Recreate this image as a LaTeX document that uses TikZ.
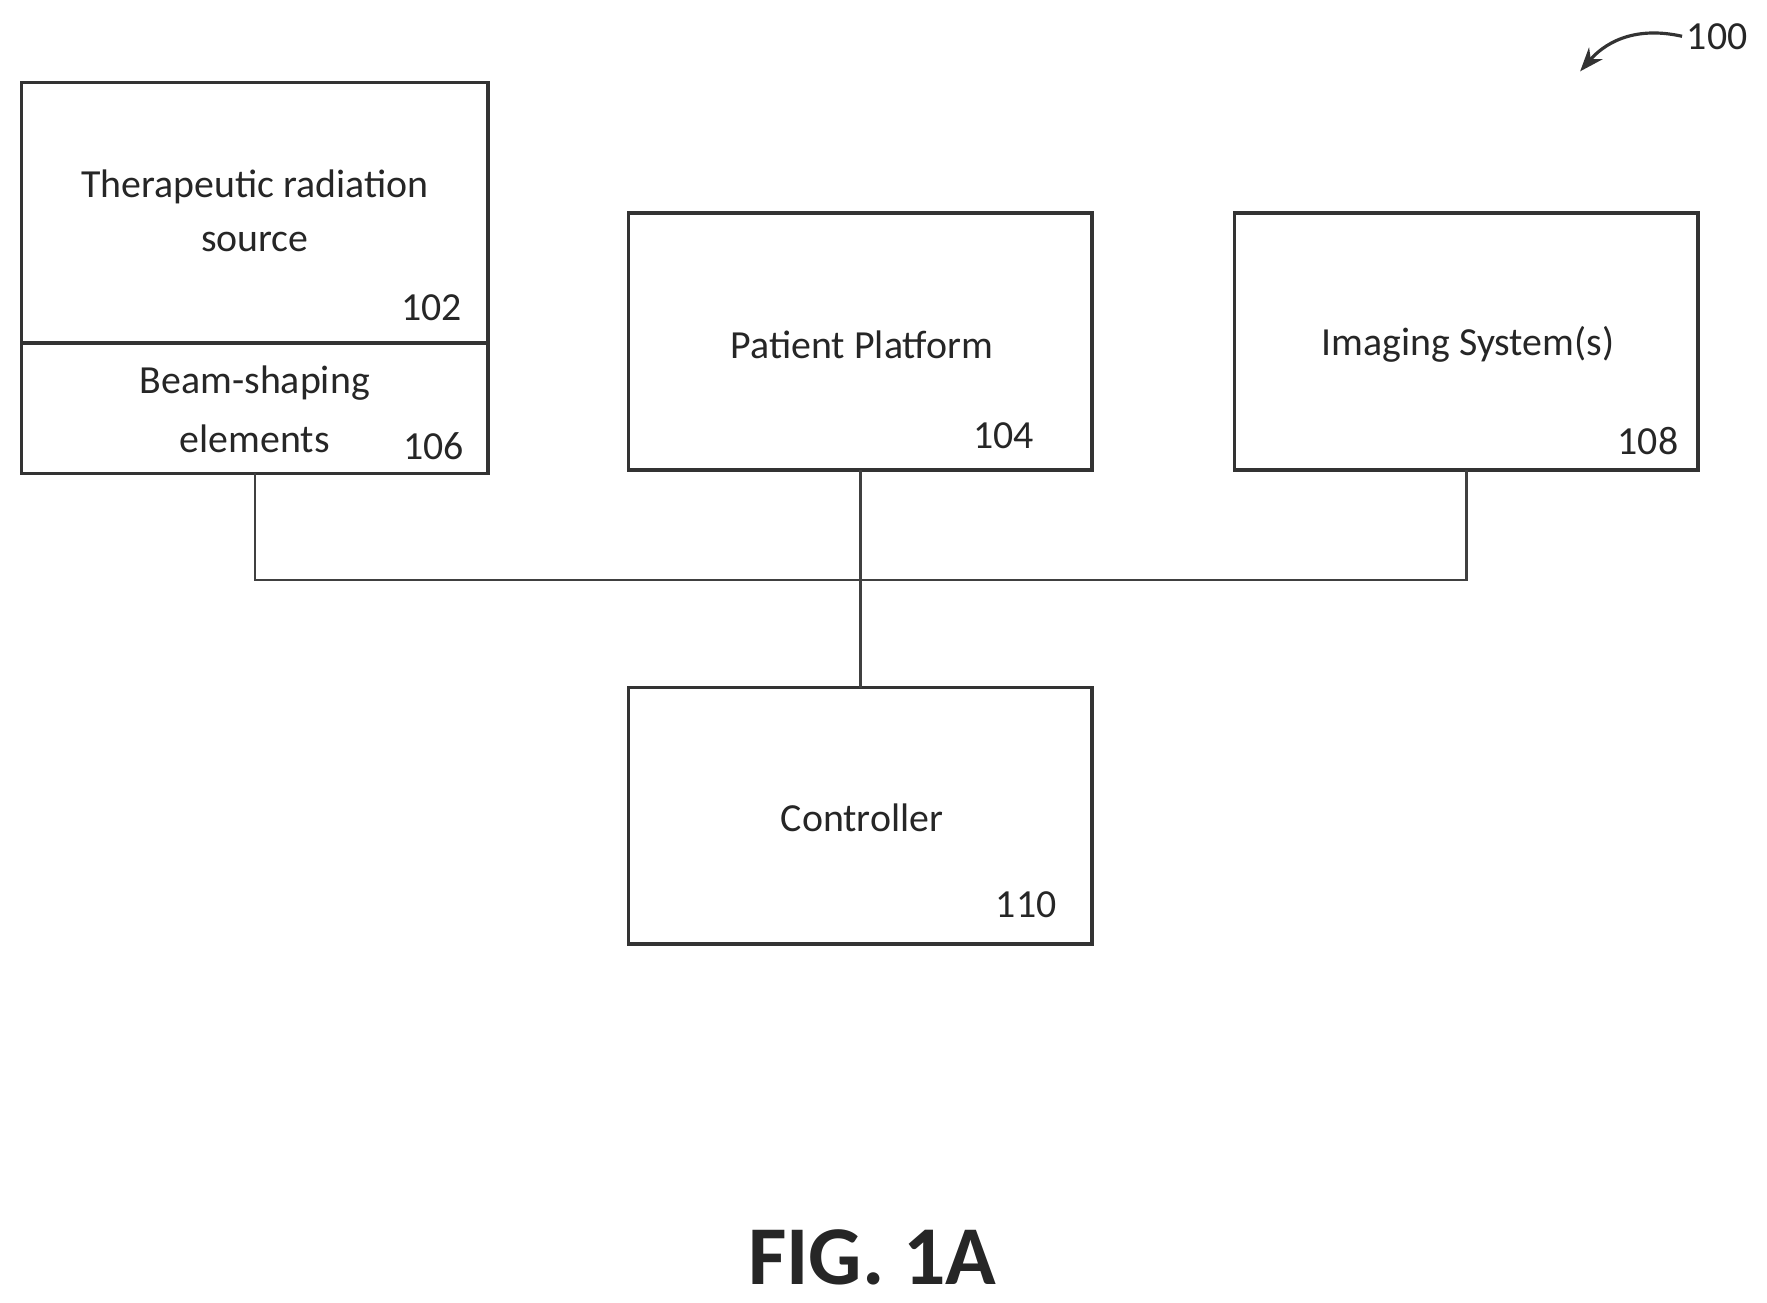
\documentclass[tikz,border=0pt]{standalone}
\usepackage{fontspec}
\setmainfont{Carlito}
\usetikzlibrary{arrows.meta}
\begin{document}
\begin{tikzpicture}[x=0.01cm,y=-0.01cm,
  box/.style={draw=black!80,line width=0.9pt,outer sep=0pt},
  lbl/.style={font=\fontsize{10pt}{12pt}\selectfont,text=black!85},
  wire/.style={draw=black!75,line width=0.6pt}]
\useasboundingbox (0,0) rectangle (1560,1150);
% boxes
\draw[box] (19,73) rectangle (431,418);
\draw[box] (19,303) -- (431,303);
\coordinate (srcbot) at (225,418);
\node[box,minimum width=4.09cm,minimum height=2.27cm,anchor=north west] (pp) at (555,188) {};
\node[box,minimum width=4.09cm,minimum height=2.27cm,anchor=north west] (img) at (1090,188) {};
\node[box,minimum width=4.09cm,minimum height=2.26cm,anchor=north west] (ctl) at (555,607) {};
% texts
\node[lbl] (t1) at (225,165) {Therapeutic radiation};
\node[lbl] (t2) at (225,214) {source};
\node[lbl] (n102) at (381,272) {102};
\node[lbl] (t3) at (225,338) {Beam-shaping};
\node[lbl] (t4) at (225,387) {elements};
\node[lbl] (n106) at (383,394) {106};
\node[lbl] (t5) at (761,304) {Patient Platform};
\node[lbl] (n104) at (886,385) {104};
\node[lbl] (t6) at (1296,304) {Imaging System(s)};
\node[lbl] (n108) at (1455,389) {108};
\node[lbl] (t7) at (761,722) {Controller};
\node[lbl] (n110) at (906,799) {110};
\node[font=\bfseries\fontsize{21pt}{25pt}\selectfont,text=black!85] (fig) at (770,1110) {FIG. 1A};
\node[lbl,anchor=west,inner sep=1pt] (n100) at (1485,32) {100};
% wires
\coordinate (j) at (761,512);
\draw[wire] (srcbot) |- (j) -| (img.south);
\draw[wire] (pp.south) -- (ctl.north);
% 100 arrow
\draw[-{Stealth[length=6pt]},line width=0.8pt,black!80] (n100.west) .. controls (1440,22) and (1415,40) .. (1395,63);
\end{tikzpicture}
\end{document}
